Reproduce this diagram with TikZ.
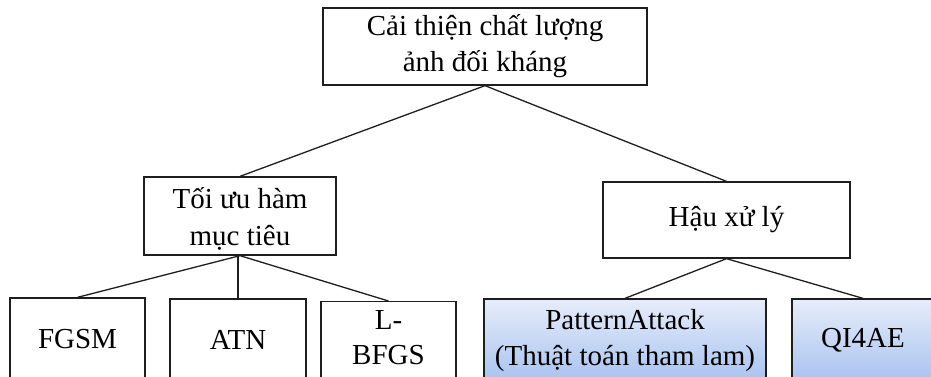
\documentclass[tikz,border=0pt]{standalone}
\usepackage{fontspec}
\setmainfont{Liberation Serif}
\definecolor{boxline}{RGB}{30,30,30}
\definecolor{shadetop}{RGB}{230,237,250}
\definecolor{shadebot}{RGB}{168,194,240}
\tikzset{
  box/.style={draw=boxline, line width=1.3pt, rectangle, inner sep=0pt,
    align=center, font=\fontsize{29}{36}\selectfont},
  bluebox/.style={box, top color=shadetop, bottom color=shadebot},
  link/.style={draw=boxline, line width=1.3pt}
}
% shift text inside a node without changing the size the node sees
\newcommand{\nudge}[2]{\raisebox{#1}[\height][\depth]{\begin{tabular}{@{}c@{}}#2\end{tabular}}}
\begin{document}
\begin{tikzpicture}[x=1pt, y=-1pt]
  \useasboundingbox (0,0) rectangle (931,376);
  \clip (0,0) rectangle (931,376);

  % root
  \node[box, minimum width=324pt, minimum height=77pt] (root) at (485,46.5)
    {Cải thiện chất lượng\\ảnh đối kháng};

  % second level
  \node[box, minimum width=192pt, minimum height=78pt] (obj) at (240,216)
    {\nudge{-4pt}{Tối ưu hàm\\[1pt]mục tiêu}};
  \node[box, minimum width=247pt, minimum height=76pt] (post) at (726.5,220)
    {Hậu xử lý};

  % leaves (their lower edges run past the bottom border)
  \node[box, minimum width=135pt, minimum height=82pt] (fgsm) at (77.5,339) {FGSM};
  \node[box, minimum width=136pt, minimum height=81pt] (atn) at (238,339.5) {ATN};
  \node[box, minimum width=135pt, minimum height=86pt, anchor=north] (lbfgs) at (388.5,301)
    {\nudge{5pt}{L-\\[-1pt]BFGS}};
  \node[bluebox, minimum width=282pt, minimum height=83pt] (pattern) at (625,340.5)
    {PatternAttack\\(Thuật toán tham lam)};
  \node[bluebox, minimum width=142pt, minimum height=83pt] (qi) at (863,340.5) {QI4AE};

  % connectors
  \draw[link] (root.south) -- (obj.north);
  \draw[link] (root.south) -- (post.north);
  \draw[link] (obj.south) -- (fgsm.north);
  \draw[link] (atn.north |- obj.south) -- (atn.north);
  \draw[link] (obj.south) -- (lbfgs.north);
  \draw[link] (post.south) -- (pattern.north);
  \draw[link] (post.south) -- (qi.north);
\end{tikzpicture}
\end{document}
